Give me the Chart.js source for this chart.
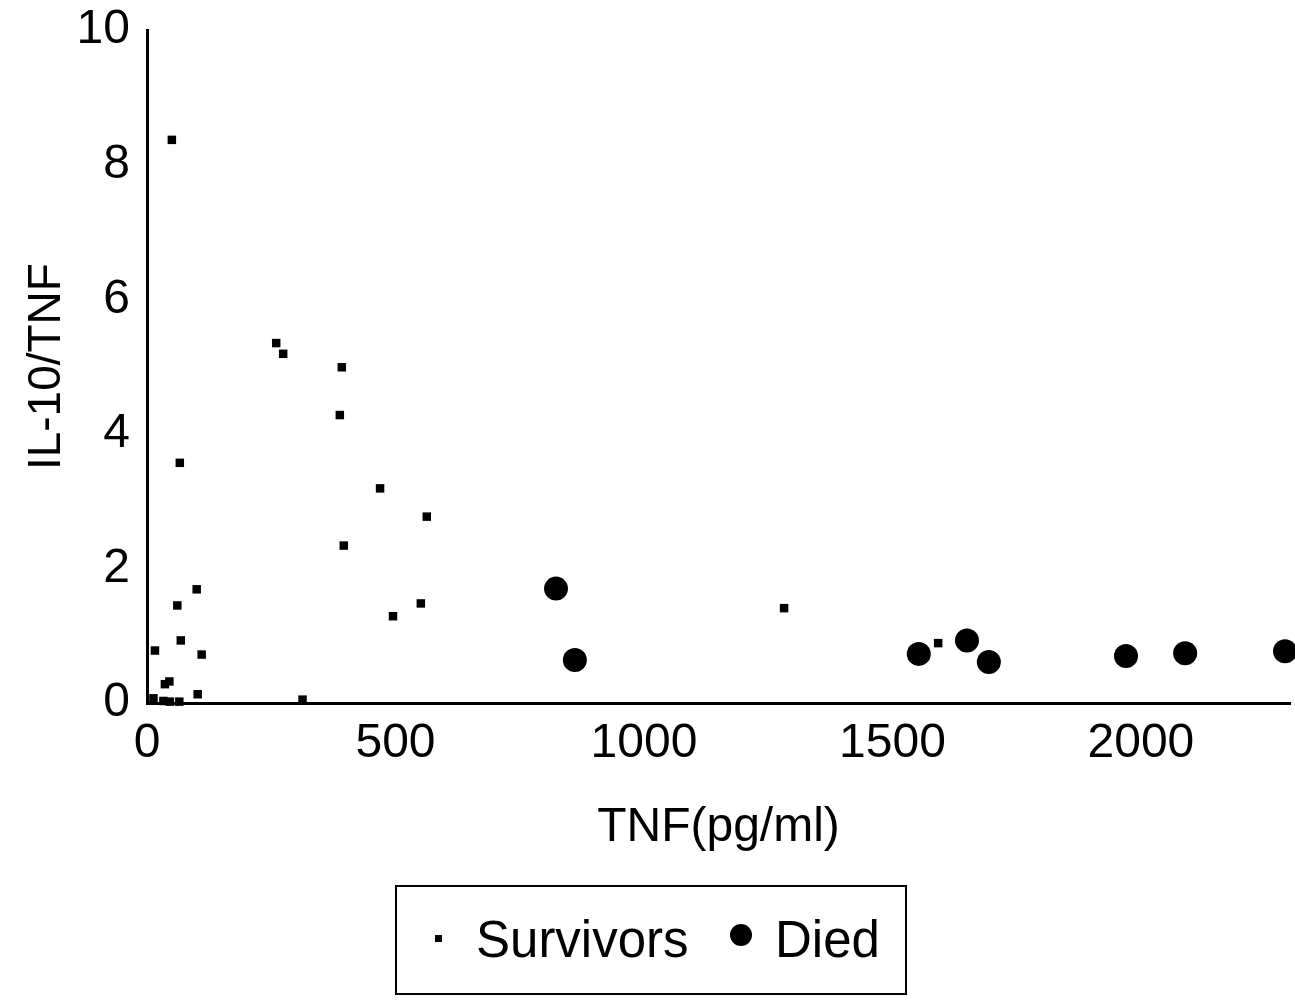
<!DOCTYPE html>
<html>
<head>
<meta charset="utf-8">
<script src="https://cdn.jsdelivr.net/npm/chart.js@4.4.1/dist/chart.umd.min.js"></script>
<style>
  html, body { margin: 0; padding: 0; background: #ffffff; }
  #wrap { width: 1295px; height: 1002px; }
</style>
</head>
<body>
<div id="wrap"><canvas id="c" width="1295" height="1002"></canvas></div>
<script>
// ---- data ----
const survivorsTNF   = [50, 66, 260, 274, 392, 388, 469, 563, 396, 100, 61, 551, 495, 1282, 68, 16, 110, 1592, 36, 45, 102, 13, 33, 46, 65, 313];
const survivorsRatio = [8.37, 3.57, 5.35, 5.19, 4.99, 4.28, 3.19, 2.77, 2.34, 1.69, 1.45, 1.48, 1.29, 1.41, 0.93, 0.78, 0.72, 0.89, 0.28, 0.32, 0.13, 0.07, 0.03, 0.02, 0.02, 0.05];
const diedTNF   = [823, 861, 1553, 1650, 1694, 1970, 2089, 2290];
const diedRatio = [1.70, 0.64, 0.73, 0.93, 0.61, 0.70, 0.74, 0.77];
const xTickValues = [0, 500, 1000, 1500, 2000];
const yTickValues = [0, 2, 4, 6, 8, 10];
const seriesLabels = ['Survivors', 'Died'];
const xTitle = 'TNF(pg/ml)';
const yTitle = 'IL-10/TNF';

const FONT = 'Liberation Sans, Arial, Helvetica, sans-serif';

function toPoints(xs, ys) { return xs.map((x, i) => ({ x: x, y: ys[i] })); }

const boxLegend = {
  id: 'boxLegend',
  afterDraw(chart) {
    const ctx = chart.ctx;
    ctx.save();
    ctx.strokeStyle = '#000';
    ctx.lineWidth = 2;
    ctx.strokeRect(396, 886, 510, 108);
    ctx.fillStyle = '#000';
    ctx.font = '51px ' + FONT;
    ctx.textBaseline = 'middle';
    ctx.textAlign = 'left';
    const ds = chart.data.datasets;
    // item 1: small square
    ctx.fillRect(435, 935, 7, 7);
    ctx.fillText(ds[0].label, 476, 943);
    // item 2: filled circle
    ctx.beginPath();
    ctx.arc(741, 935, 11, 0, Math.PI * 2);
    ctx.fill();
    ctx.fillText(ds[1].label, 775, 943);
    ctx.restore();
  }
};

new Chart(document.getElementById('c'), {
  type: 'scatter',
  data: {
    datasets: [
      {
        label: seriesLabels[0],
        data: toPoints(survivorsTNF, survivorsRatio),
        pointStyle: 'rect',
        pointRadius: 6,
        backgroundColor: '#000',
        borderColor: '#000',
        borderWidth: 0,
        clip: false
      },
      {
        label: seriesLabels[1],
        data: toPoints(diedTNF, diedRatio),
        pointStyle: 'circle',
        pointRadius: 12,
        backgroundColor: '#000',
        borderColor: '#000',
        borderWidth: 0,
        clip: false
      }
    ]
  },
  options: {
    responsive: false,
    animation: false,
    devicePixelRatio: 1,
    layout: { autoPadding: false, padding: { left: 0, top: 0, right: 5, bottom: 0 } },
    plugins: {
      legend: { display: false },
      tooltip: { enabled: false }
    },
    scales: {
      x: {
        type: 'linear',
        min: 0,
        max: 2300,
        afterBuildTicks(scale) { scale.ticks = xTickValues.map(v => ({ value: v })); },
        afterFit(scale) { scale.height = 1002 - 703; },
        grid: { display: false, drawTicks: false, tickLength: 0 },
        border: { display: true, color: '#000', width: 3 },
        ticks: {
          includeBounds: false,
          color: '#000',
          padding: 12,
          maxRotation: 0,
          callback: (v) => String(v),
          font: { family: FONT, size: 48, lineHeight: 1.2 }
        },
        title: {
          display: true,
          text: xTitle,
          color: '#000',
          font: { family: FONT, size: 48, lineHeight: 1 },
          padding: { top: 0, bottom: 150 }
        }
      },
      y: {
        type: 'linear',
        min: 0,
        max: 10,
        afterBuildTicks(scale) { scale.ticks = yTickValues.map(v => ({ value: v })); },
        afterFit(scale) { scale.width = 147; },
        grid: { display: false, drawTicks: false, tickLength: 0 },
        border: { display: true, color: '#000', width: 3 },
        ticks: {
          includeBounds: false,
          color: '#000',
          padding: 17,
          callback: (v) => String(v),
          font: { family: FONT, size: 48, lineHeight: 0.55 }
        },
        title: {
          display: true,
          text: yTitle,
          color: '#000',
          font: { family: FONT, size: 46, lineHeight: 1 },
          padding: { top: 24, bottom: 0 }
        }
      }
    }
  },
  plugins: [boxLegend]
});
</script>
</body>
</html>
